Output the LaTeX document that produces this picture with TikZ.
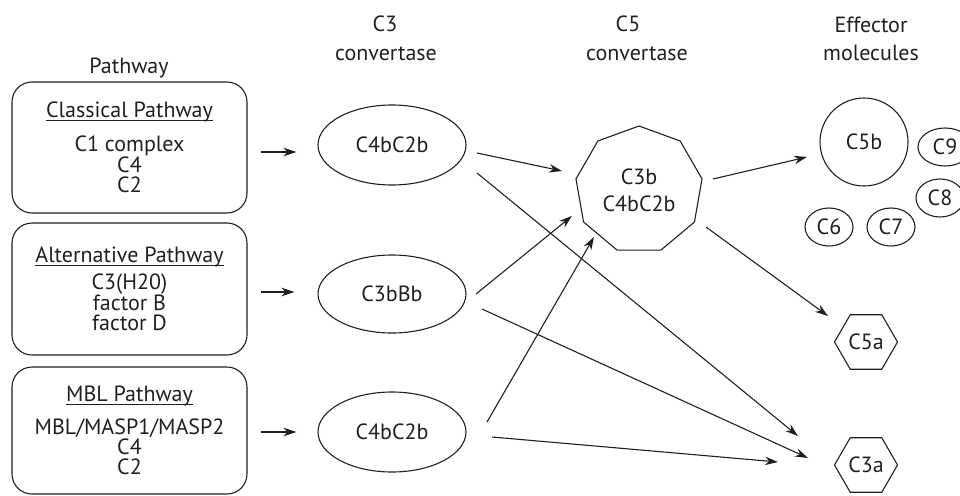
\documentclass[tikz,border=0pt]{standalone}
\usepackage{fontspec}
\setmainfont{PT Sans}
\usetikzlibrary{shapes.geometric,arrows.meta,calc}
\definecolor{ink}{HTML}{231F20}
% underline set just below the baseline, through the descenders
\newcommand\pwtitle[1]{\leavevmode\setbox0\hbox{#1}\rlap{\rule[-3.5pt]{\wd0}{0.9pt}}\box0}

\begin{document}
\begin{tikzpicture}[x=1pt,y=-1pt,
  line width=1.1pt, draw=ink, text=ink,
  font=\fontsize{22}{20}\selectfont,
  pathbox/.style={draw, rounded corners=20pt, minimum width=235pt, inner sep=0pt, align=center},
  oval/.style={draw, ellipse, inner sep=0pt},
  polyn/.style={draw, regular polygon, inner sep=0pt, align=center},
  head/.style={anchor=base},
  arr/.style={-{Stealth[length=13pt,width=8.5pt]}}
]
\useasboundingbox (0,0) rectangle (960,495);

% column headings
\node[head] (hp)  at (129,74) {Pathway};
\node[head] (h3a) at (385,32) {C3};
\node[head] (h3b) at (386,60) {convertase};
\node[head] (h5a) at (628,32) {C5};
\node[head] (h5b) at (637,60) {convertase};
\node[head] (hea) at (871,33) {Effector};
\node[head] (heb) at (871,60) {molecules};

% pathways
\node[pathbox, minimum height=131pt] (b1) at (129.5,147.5)
  {\pwtitle{Classical Pathway}\\[13pt]C1 complex\\C4\\C2};
\node[pathbox, minimum height=132pt] (b2) at (129.5,289)
  {\pwtitle{Alternative Pathway}\\[6pt]C3(H20)\\factor B\\[0pt]factor D};
\node[pathbox, minimum height=127pt] (b3) at (129.5,430.5)
  {\pwtitle{MBL Pathway}\\[12pt]MBL/MASP1/MASP2\\C4\\C2};

% C3 convertases
\node[oval, minimum width=148pt, minimum height=80pt] (e1) at (392,145) {C4bC2b};
\node[oval, minimum width=148pt, minimum height=78pt] (e2) at (392,294) {C3bBb};
\node[oval, minimum width=148pt, minimum height=80pt] (e3) at (392,432) {C4bC2b};

% C5 convertase
\node[polyn, regular polygon sides=9, minimum size=128pt] (N) at (639,190) {C3b\\[7pt]C4bC2b};

% effector molecules
\node[draw, circle, inner sep=0pt, minimum size=88pt] (c5b) at (864,142) {C5b};
\node[oval, minimum width=54pt, minimum height=38pt] (c9) at (945,147) {C9};
\node[oval, minimum width=48pt, minimum height=38pt] (c8) at (940,198) {C8};
\node[oval, minimum width=48pt, minimum height=38pt] (c6) at (829,227) {C6};
\node[oval, minimum width=48pt, minimum height=38pt] (c7) at (891,227) {C7};
\node[polyn, regular polygon sides=6, minimum size=63pt] (c5a) at (866,342) {C5a};
\node[polyn, regular polygon sides=6, minimum size=63pt] (c3a) at (866,465) {C3a};

% pathway -> C3 convertase
\draw[arr, shorten <=13pt, shorten >=21pt] ([yshift=-4.5pt]b1.east) -- ([yshift=-4.5pt]b1.east -| e1.west);
\draw[arr, shorten <=13pt, shorten >=23pt] ([yshift=-3pt]b2.east) -- ([yshift=-3pt]b2.east -| e2.west);
\draw[arr, shorten <=13pt, shorten >=21pt] ([yshift=-1.5pt]b3.east) -- ([yshift=-1.5pt]b3.east -| e3.west);

% C3 convertase -> C5 convertase and C3a
\draw[arr] ($(e1)+(85,8)$)   -- ($(N)+(-77,-19)$);
\draw[arr] ($(e1)+(85,28)$)  -- ($(c3a)+(-68,-29)$);
\draw[arr] ($(e2)+(84,0)$)   -- ($(N)+(-67,26)$);
\draw[arr] ($(e2)+(90,15)$)  -- ($(c3a)+(-58,-7)$);
\draw[arr] ($(e3)+(95,-10)$) -- ($(N)+(-45,47)$);
\draw[arr] ($(e3)+(100,5)$)  -- ($(c3a)+(-88,-3)$);

% C5 convertase -> C5b and C5a
\draw[arr] ($(N)+(74,-11)$) -- ($(c5b)+(-57,15)$);
\draw[arr] ($(N)+(67,37)$)  -- ($(c5a)+(-38,-26)$);
\end{tikzpicture}
\end{document}
